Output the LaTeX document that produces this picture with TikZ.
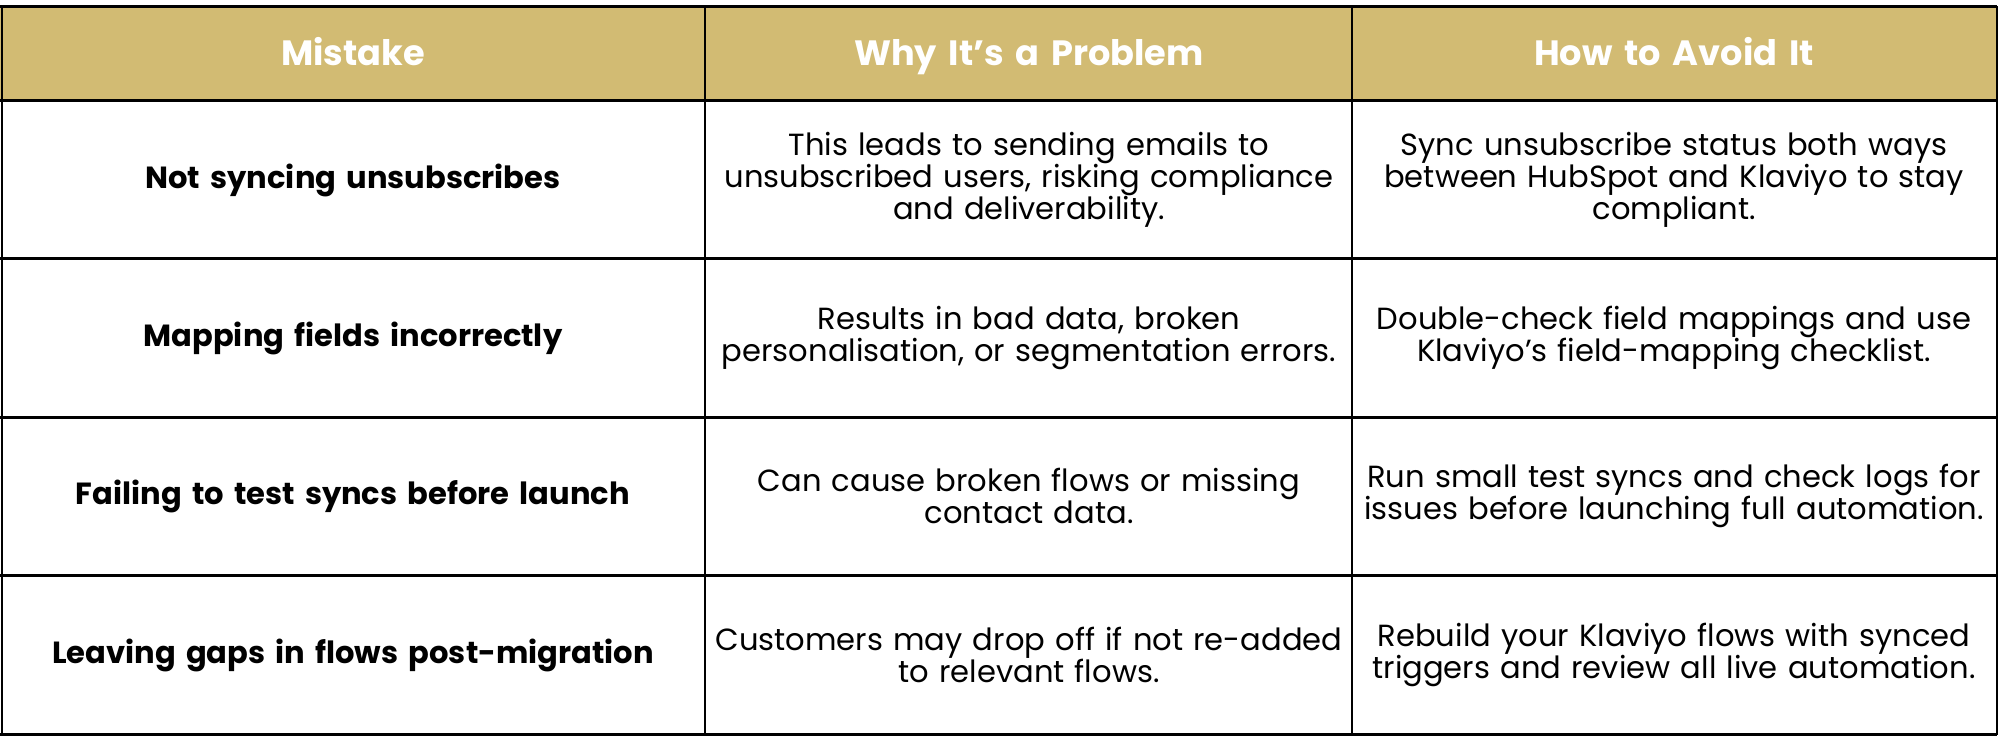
\documentclass[tikz,border=0pt]{standalone}
\usepackage{fontspec}
\setmainfont{Poppins}
\usetikzlibrary{positioning}
\definecolor{headgold}{RGB}{210,187,115}
\tikzset{
  cell/.style={align=center, font=\fontsize{8.7}{9.1}\selectfont, text width=6.4cm},
  headcell/.style={cell, font=\fontsize{10}{11}\selectfont\bfseries, text=white, text height=1.5ex, text depth=.3ex},
  keycell/.style={cell, font=\fontsize{8.7}{9.1}\selectfont\bfseries}
}
\begin{document}
\begin{tikzpicture}
        \useasboundingbox (0,0) rectangle (20,-7.39);
        \fill[headgold] (0,-0.064) rectangle (19.97,-1.008);
        % grid lines
        \foreach \y in {0.064,1.008,2.589,4.171,5.753,7.347}
          \draw[thick] (0,-\y) -- (19.97,-\y);
        \foreach \x in {0.02,7.053,13.52,19.97}
          \draw[semithick] (\x,-0.064) -- (\x,-7.347);
        % header
        \node[headcell] (hmist) at (3.53,-0.536) {Mistake};
        \node[headcell] (hwhy) at (10.29,-0.536) {Why It’s a Problem};
        \node[headcell] (havoid) at (16.74,-0.536) {How to Avoid It};
        % rows
        \node[keycell] (m1) at (3.53,-1.80) {Not syncing unsubscribes};
        \node[cell] (w1) at (10.29,-1.80) {This leads to sending emails to\\unsubscribed users, risking compliance\\and deliverability.};
        \node[cell] (a1) at (16.74,-1.80) {Sync unsubscribe status both ways\\between HubSpot and Klaviyo to stay\\compliant.};
        \node[keycell] (m2) at (3.53,-3.38) {Mapping fields incorrectly};
        \node[cell] (w2) at (10.29,-3.38) {Results in bad data, broken\\personalisation, or segmentation errors.};
        \node[cell] (a2) at (16.74,-3.38) {Double-check field mappings and use\\Klaviyo’s field-mapping checklist.};
        \node[keycell] (m3) at (3.53,-4.96) {Failing to test syncs before launch};
        \node[cell] (w3) at (10.29,-4.96) {Can cause broken flows or missing\\contact data.};
        \node[cell] (a3) at (16.74,-4.96) {Run small test syncs and check logs for\\issues before launching full automation.};
        \node[keycell] (m4) at (3.53,-6.55) {Leaving gaps in flows post-migration};
        \node[cell] (w4) at (10.29,-6.55) {Customers may drop off if not re-added\\to relevant flows.};
        \node[cell] (a4) at (16.74,-6.55) {Rebuild your Klaviyo flows with synced\\triggers and review all live automation.};
\end{tikzpicture}
\end{document}
